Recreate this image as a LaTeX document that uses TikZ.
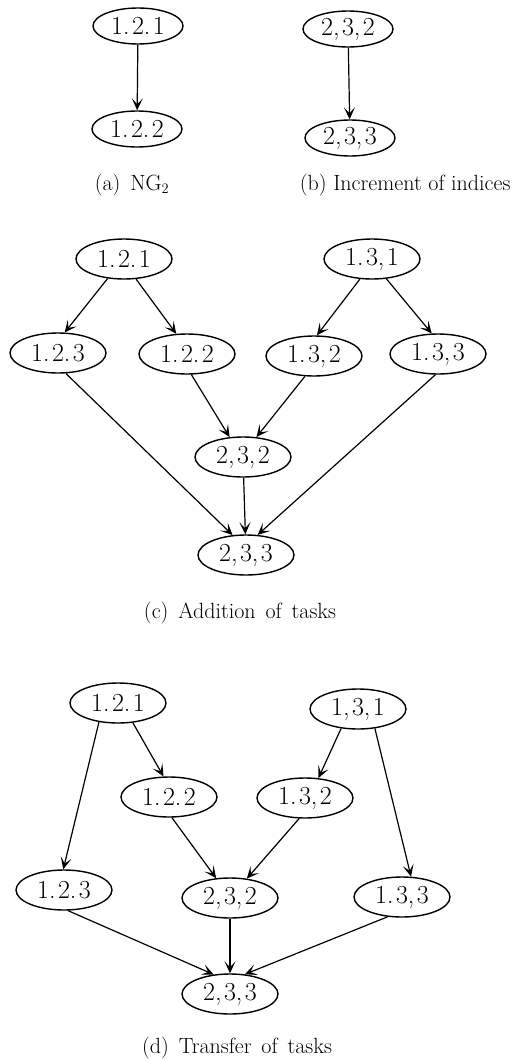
\documentclass[tikz,border=0pt]{standalone}
\usetikzlibrary{shapes,arrows.meta}

\begin{document}
\begin{tikzpicture}[x=1pt,y=-1pt]
        \tikzstyle{task} = [ellipse, draw, line width=1.4pt, inner sep=0pt, minimum width=96pt, minimum height=40pt, font=\fontsize{26}{30}\selectfont]
        \tikzstyle{smalltask} = [task, minimum width=90pt, minimum height=36pt]
        \tikzstyle{subcap} = [font=\fontsize{22}{26}\selectfont]
        \tikzstyle{dep} = [line width=1.2pt, -{Stealth[length=12pt,width=11pt,inset=6pt]}]
        \newcommand{\gap}{\hspace{0.45em}}
        \newcommand{\pt}{\kern2.5pt}

        \useasboundingbox (0,0) rectangle (515,1060);

        % (a) and (b)
        \node[smalltask] (a1) at (138,26) {1.\pt2.\pt1};
        \node[smalltask] (a2) at (137,129) {1.\pt2.\pt2};
        \node[smalltask] (b1) at (348,29) {2,\pt3,\pt2};
        \node[smalltask] (b2) at (350,138) {2,\pt3,\pt3};
        \node[subcap] (capa) at (132,185) {(a)\gap NG$_2$};
        \node[subcap, anchor=east] (capb) at (514,185) {(b) Increment of indices};

        \draw[dep] (a1) -- (a2);
        \draw[dep] (b1) -- (b2);

        % (c)
        \node[task] (c121) at (124,259) {1.\pt2.\pt1};
        \node[task] (c131) at (372,259) {1.\pt3,\pt1};
        \node[task] (c123) at (58,353) {1.\pt2.\pt3};
        \node[task] (c122) at (187,354) {1.\pt2.\pt2};
        \node[task] (c132) at (314,356) {1.\pt3,\pt2};
        \node[task] (c133) at (438,354) {1.\pt3,\pt3};
        \node[task] (c232) at (243,457) {2,\pt3,\pt2};
        \node[task] (c233) at (246,555) {2,\pt3,\pt3};
        \node[subcap] (capc) at (240,613) {(c)\gap Addition\gap of\gap tasks};

        \draw[dep] (c121.-130) -- (c123.72);
        \draw[dep] (c121.-59) -- (c122.118);
        \draw[dep] (c131.-121) -- (c132.82);
        \draw[dep] (c131.-54) -- (c133.107);
        \draw[dep] (c123.-69) -- (c233.124);
        \draw[dep] (c122.-78) -- (c232.124);
        \draw[dep] (c132.-114) -- (c232.56);
        \draw[dep] (c133.-97) -- (c233.60);
        \draw[dep] (c232) -- (c233);

        % (d)
        \node[task] (d121) at (118,703) {1.\pt2.\pt1};
        \node[task] (d131) at (358,709) {1,\pt3,\pt1};
        \node[task] (d122) at (169,797) {1.\pt2.\pt2};
        \node[task] (d132) at (305,798) {1.\pt3,\pt2};
        \node[task] (d123) at (64,890) {1.\pt2.\pt3};
        \node[task] (d232) at (230,898) {2,\pt3,\pt2};
        \node[task] (d133) at (402,897) {1.\pt3,\pt3};
        \node[task] (d233) at (230,994) {2,\pt3,\pt3};
        \node[subcap] (capd) at (237,1048) {(d)\gap Transfer\gap of\gap tasks};

        \draw[dep] (d121.-135) -- (d123.92);
        \draw[dep] (d121.-53) -- (d122.105);
        \draw[dep] (d131.-131) -- (d132.56);
        \draw[dep] (d131.-49) -- (d133.66);
        \draw[dep] (d122.-82) -- (d232.125);
        \draw[dep] (d132.-106) -- (d232.49);
        \draw[dep] (d123.-79) -- (d233.130);
        \draw[dep] (d232) -- (d233);
        \draw[dep] (d133.-126) -- (d233.53);
\end{tikzpicture}
\end{document}
